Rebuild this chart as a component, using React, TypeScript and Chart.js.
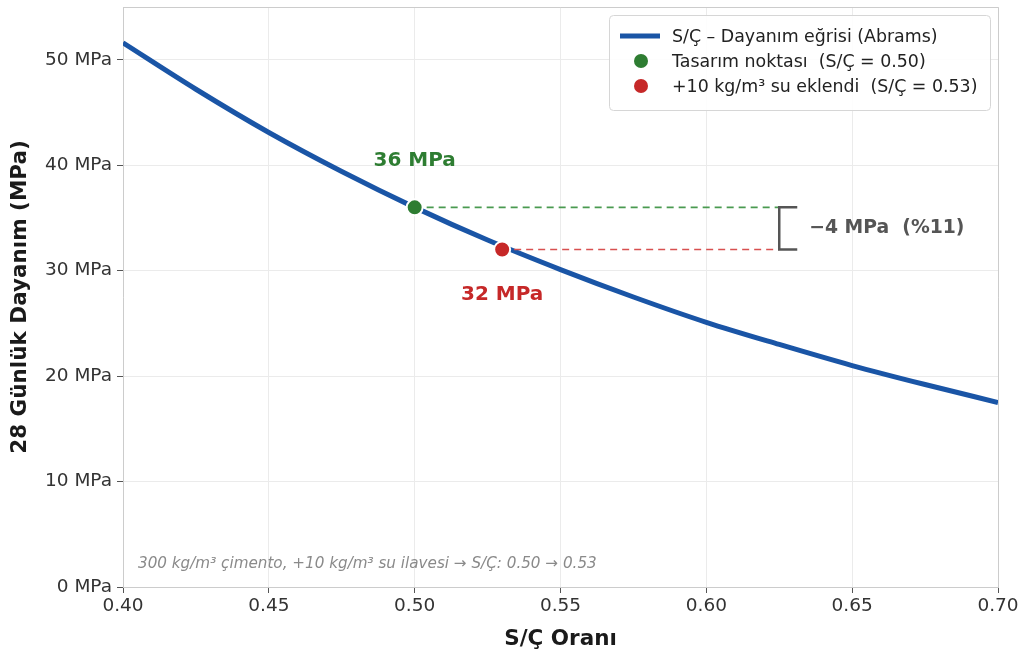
import React, { useEffect, useRef } from "react";
import { Chart, registerables } from "chart.js";

Chart.register(...registerables);

// Abrams curve, values
const curveX = [0.4, 0.425, 0.45, 0.475, 0.5, 0.525, 0.55, 0.575, 0.6, 0.625, 0.65, 0.675, 0.7];
const curveY = [51.6, 47.2, 43.1, 39.4, 36.0, 32.9, 30.1, 27.5, 25.1, 23.0, 21.0, 19.2, 17.5];

const designPoint = { x: 0.5, y: 36 };
const waterPoint = { x: 0.53, y: 32 };
const bracketX = 0.625;

const xTicks = [0.4, 0.45, 0.5, 0.55, 0.6, 0.65, 0.7];
const yTicks = [0, 10, 20, 30, 40, 50];

const legendLabels = [
  "S/Ç – Dayanım eğrisi (Abrams)",
  "Tasarım noktası  (S/Ç = 0.50)",
  "+10 kg/m³ su eklendi  (S/Ç = 0.53)",
];

const BLUE = "#1a55a6";
const GREEN = "#2e7d32";
const RED = "#c62828";
const FONT = "'DejaVu Sans', sans-serif";

const overlay = {
  id: "overlay",
  afterDatasetsDraw(chart: any) {
    const { ctx, scales, chartArea } = chart;
    const xs = scales.x;
    const ys = scales.y;
    ctx.save();
    // frame (top & right)
    ctx.strokeStyle = "#cccccc";
    ctx.lineWidth = 1;
    ctx.beginPath();
    ctx.moveTo(chartArea.left, chartArea.top + 0.5);
    ctx.lineTo(chartArea.right + 0.5, chartArea.top + 0.5);
    ctx.lineTo(chartArea.right + 0.5, chartArea.bottom);
    ctx.stroke();

    // labels
    ctx.textAlign = "center";
    ctx.textBaseline = "middle";
    ctx.font = `bold 20px ${FONT}`;
    ctx.fillStyle = GREEN;
    ctx.fillText("36 MPa", xs.getPixelForValue(designPoint.x), ys.getPixelForValue(40.4));
    ctx.fillStyle = RED;
    ctx.fillText("32 MPa", xs.getPixelForValue(waterPoint.x), ys.getPixelForValue(27.7));

    // bracket
    const bx = xs.getPixelForValue(bracketX);
    const y1 = ys.getPixelForValue(designPoint.y);
    const y2 = ys.getPixelForValue(waterPoint.y);
    ctx.strokeStyle = "#555555";
    ctx.lineWidth = 2.5;
    ctx.beginPath();
    ctx.moveTo(bx + 18, y1);
    ctx.lineTo(bx, y1);
    ctx.lineTo(bx, y2);
    ctx.lineTo(bx + 18, y2);
    ctx.stroke();
    ctx.fillStyle = "#555555";
    ctx.textAlign = "left";
    ctx.font = `bold 18.8px ${FONT}`;
    ctx.fillText("−4 MPa  (%11)", bx + 30, (y1 + y2) / 2);

    // note
    ctx.font = `italic 15.2px ${FONT}`;
    ctx.fillStyle = "#8a8a8a";
    ctx.fillText(
      "300 kg/m³ çimento, +10 kg/m³ su ilavesi → S/Ç: 0.50 → 0.53",
      chartArea.left + 15,
      chartArea.bottom - 23
    );

    // legend
    const lx = 609, ly = 15, lw = 381, lh = 95;
    ctx.fillStyle = "rgba(255,255,255,0.9)";
    ctx.strokeStyle = "#d6d6d6";
    ctx.lineWidth = 1;
    ctx.beginPath();
    (ctx as any).roundRect(lx + 0.5, ly + 0.5, lw, lh, 4);
    ctx.fill();
    ctx.stroke();
    ctx.font = `17.4px ${FONT}`;
    ctx.textBaseline = "middle";
    legendLabels.forEach((lab, i) => {
      const yy = 36 + i * 25;
      if (i === 0) {
        ctx.strokeStyle = BLUE;
        ctx.lineWidth = 5;
        ctx.beginPath();
        ctx.moveTo(620, yy);
        ctx.lineTo(660, yy);
        ctx.stroke();
      } else {
        ctx.fillStyle = i === 1 ? GREEN : RED;
        ctx.beginPath();
        ctx.arc(641, yy, 7, 0, Math.PI * 2);
        ctx.fill();
      }
      ctx.fillStyle = "#222222";
      ctx.fillText(lab, 672, yy + 1);
    });

    // axis titles
    ctx.fillStyle = "#1a1a1a";
    ctx.font = `bold 21.5px ${FONT}`;
    ctx.textAlign = "center";
    ctx.fillText("S/Ç Oranı", (chartArea.left + chartArea.right) / 2, 639);
    ctx.translate(20, (chartArea.top + chartArea.bottom) / 2);
    ctx.rotate(-Math.PI / 2);
    ctx.fillText("28 Günlük Dayanım (MPa)", 0, 0);
    ctx.restore();
  },
};

export default function App() {
  const ref = useRef<HTMLCanvasElement>(null);
  useEffect(() => {
    if (!ref.current) return;
    const chart = new Chart(ref.current, {
      type: "line",
      data: {
        datasets: [
          {
            label: "curve",
            data: curveX.map((x, i) => ({ x, y: curveY[i] })),
            borderColor: BLUE,
            borderWidth: 5,
            pointRadius: 0,
            cubicInterpolationMode: "monotone",
            order: 3,
          },
          {
            label: "dashG",
            data: [designPoint, { x: bracketX, y: designPoint.y }],
            borderColor: "#4a9a50",
            borderWidth: 1.6,
            borderDash: [7, 5],
            pointRadius: 0,
            order: 2,
          },
          {
            label: "dashR",
            data: [waterPoint, { x: bracketX, y: waterPoint.y }],
            borderColor: "#d85050",
            borderWidth: 1.6,
            borderDash: [7, 5],
            pointRadius: 0,
            order: 2,
          },
          {
            label: "pts",
            data: [designPoint, waterPoint],
            showLine: false,
            pointRadius: 8,
            pointBorderWidth: 2,
            pointBorderColor: "#ffffff",
            pointBackgroundColor: [GREEN, RED],
            order: 1,
          },
        ],
      } as any,
      options: {
        animation: false,
        responsive: false,
        maintainAspectRatio: false,
        layout: { autoPadding: false, padding: { left: 0, right: 24, top: 7, bottom: 0 } },
        plugins: { legend: { display: false }, tooltip: { enabled: false } },
        scales: {
          x: {
            type: "linear",
            min: 0.4,
            max: 0.7,
            afterBuildTicks: (s: any) => {
              s.ticks = xTicks.map((v) => ({ value: v }));
            },
            afterFit: (s: any) => {
              s.height = 68;
              s.paddingLeft = 0;
              s.paddingRight = 0;
            },
            ticks: {
              color: "#333333",
              font: { family: FONT, size: 18.5 },
              padding: 2,
              maxRotation: 0,
              callback: (v: any) => Number(v).toFixed(2),
            },
            grid: { color: "#ebebeb", tickColor: "#555555", tickLength: 6, lineWidth: 1 },
            border: { color: "#cccccc" },
          },
          y: {
            type: "linear",
            min: 0,
            max: 55,
            afterBuildTicks: (s: any) => {
              s.ticks = yTicks.map((v) => ({ value: v }));
            },
            afterFit: (s: any) => {
              s.width = 123;
              s.paddingTop = 0;
              s.paddingBottom = 0;
            },
            ticks: {
              color: "#333333",
              font: { family: FONT, size: 18.5, lineHeight: 0.6 },
              padding: 5,
              callback: (v: any) => `${v} MPa`,
            },
            grid: { color: "#ebebeb", tickColor: "#555555", tickLength: 6, lineWidth: 1 },
            border: { color: "#cccccc" },
          },
        },
      },
      plugins: [overlay],
    });
    return () => chart.destroy();
  }, []);
  return (
    <div style={{ position: "fixed", left: 0, top: 0, width: 1022, height: 655, background: "#fff" }}>
      <canvas ref={ref} width={1022} height={655} style={{ width: 1022, height: 655 }} />
    </div>
  );
}
